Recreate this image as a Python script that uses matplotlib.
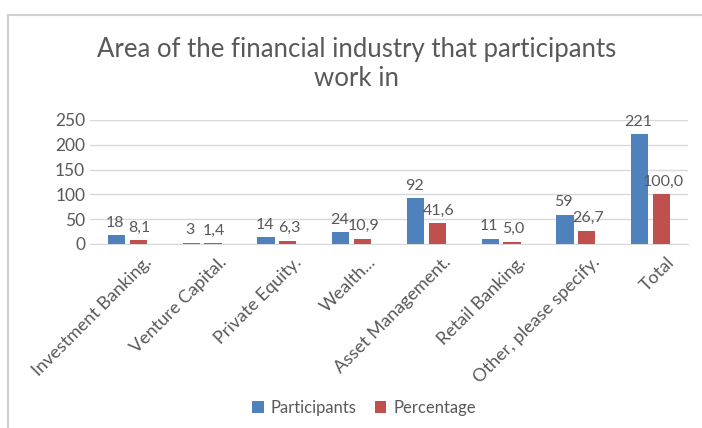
import numpy as np
import matplotlib.pyplot as plt
import matplotlib.transforms as mtransforms
from matplotlib.lines import Line2D

categories = ["Investment Banking.", "Venture Capital.", "Private Equity.", "Wealth...",
              "Asset Management.", "Retail Banking.", "Other, please specify.", "Total"]
participants = [18, 3, 14, 24, 92, 11, 59, 221]
percentage = [8.1, 1.4, 6.3, 10.9, 41.6, 5.0, 26.7, 100.0]

blue = "#4F81BD"
red = "#C0504D"
grey = "#595959"

plt.rcParams['font.family'] = ['Lato', 'DejaVu Sans']

fig = plt.figure(figsize=(7.02, 4.28), dpi=100)
ax = fig.add_axes([90 / 702, 1 - 244 / 428, 598 / 702, 124 / 428])

x = np.arange(len(categories))
w = 0.23
b1 = ax.bar(x - 0.145, participants, w, color=blue, zorder=3, label="Participants")
b2 = ax.bar(x + 0.145, percentage, w, color=red, zorder=3, label="Percentage")

for rect, v in zip(b1, participants):
    ax.annotate(f"{v}", (rect.get_x() + rect.get_width() / 2, v), xytext=(-1, 4),
                textcoords="offset points", ha="center", va="bottom", fontsize=11.5, color=grey)
for rect, v in zip(b2, percentage):
    ax.annotate(f"{v:.1f}".replace(".", ","), (rect.get_x() + rect.get_width() / 2, v),
                xytext=(1, 4), textcoords="offset points", ha="center", va="bottom",
                fontsize=11.5, color=grey)

ax.set_xlim(-0.5, len(categories) - 0.5)
ax.set_ylim(0, 250)
ax.set_yticks(range(0, 251, 50))
ax.yaxis.grid(True, color="#d9d9d9", linewidth=1, zorder=0)
for s in ["top", "right", "left"]:
    ax.spines[s].set_visible(False)
ax.spines["bottom"].set_color("#d9d9d9")
ax.tick_params(axis="both", length=0, colors=grey, labelsize=12.5)
ax.tick_params(axis="x", pad=7)
ax.set_xticks(x)
ax.set_xticklabels(categories, rotation=45, ha="right", rotation_mode="anchor", fontsize=13)
shift = mtransforms.ScaledTranslation(16 / 100, 0, fig.dpi_scale_trans)
for lbl in ax.get_xticklabels():
    lbl.set_transform(lbl.get_transform() + shift)

fig.text(357 / 702, 1 - 64 / 428, "Area of the financial industry that participants\nwork in",
         ha="center", va="center", fontsize=18.5, color=grey, linespacing=1.25)

fig.legend(handles=[b1, b2], loc="center", bbox_to_anchor=(364 / 702, 1 - 408 / 428), ncol=2,
           frameon=False, fontsize=12, labelcolor=grey, handlelength=0.7, handleheight=0.7,
           handletextpad=0.4, columnspacing=1.1)

# outer chart border (left and top edges)
fig.add_artist(Line2D([8 / 702, 8 / 702], [0, 1 - 15 / 428], color="#d0d0d0", linewidth=1.5))
fig.add_artist(Line2D([8 / 702, 1], [1 - 15 / 428, 1 - 15 / 428], color="#d0d0d0", linewidth=1.5))

fig.savefig("out.png", dpi=100)
